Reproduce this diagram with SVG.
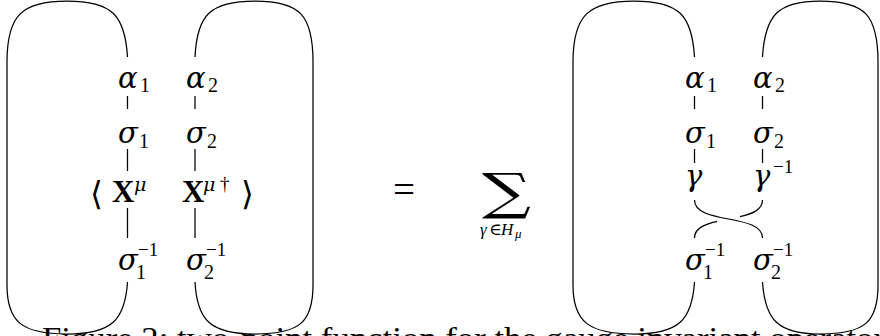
<svg xmlns="http://www.w3.org/2000/svg" width="880" height="336" viewBox="0 0 880 336">
<style>
.ln{fill:none;stroke:#000;stroke-width:1.25;stroke-linecap:butt}
text{fill:#000;font-family:"Liberation Serif","DejaVu Serif",serif}
.g{font-family:"DejaVu Serif",serif;font-size:29px;font-style:italic}
.sub{font-size:20px}
.sup{font-size:19px}
.smi{font-family:"DejaVu Serif",serif;font-size:19px;font-style:italic}
.bx{font-size:31px;font-weight:bold}
.br{font-family:"DejaVu Serif","DejaVu Sans",serif;font-size:33px}
.cap{font-size:32px}
.ss{font-size:17px}
</style>
<rect width="880" height="336" fill="#fff"/>
<g id="connectors">
  <path class="ln" d="M127.5,57 C125,15 112,1 67,1 C22,1 7,15 7,62 L7,285 C7,322 22,334 67,334 C112,334 125,320 127.5,282"/>
  <path class="ln" d="M195,57 C197,15 210,1 255,1 C300,1 313,15 313,62 L313,285 C313,322 300,334 255,334 C210,334 197,320 195,282"/>
  <path class="ln" d="M127.5,96 V109 M195,96 V109 M127.5,149 V171 M195,149 V171 M127.5,208 V238 M195,208 V238"/>
  <path class="ln" d="M694.5,57 C692,15 679,1 634,1 C589,1 573,15 573,62 L573,285 C573,322 589,334 634,334 C679,334 692,320 694.5,282"/>
  <path class="ln" d="M762.5,57 C765,15 778,1 820,1 C865,1 878,15 878,62 L878,285 C878,322 865,334 820,334 C778,334 765,320 762.5,282"/>
  <path class="ln" d="M694.5,96 V109 M762.5,96 V109 M694.5,149 V163 M762.5,149 V163"/>
  <path class="ln" d="M694.5,200 C694.5,225 762.5,213 762.5,238"/>
  <path class="ln" d="M762.5,200 C762.5,209.63 752.42,213.77 740.02,216.65"/>
  <path class="ln" d="M716.98,221.35 C704.58,224.23 694.5,228.37 694.5,238"/>
</g>
<g id="left-a1"><text class="g" x="118" y="88">α</text><text class="sub" x="140" y="92">1</text></g>
<g id="left-a2"><text class="g" x="186" y="88">α</text><text class="sub" x="208" y="92">2</text></g>
<g id="left-s1"><text class="g" x="118" y="143">σ</text><text class="sub" x="139" y="148">1</text></g>
<g id="left-s2"><text class="g" x="186" y="143">σ</text><text class="sub" x="207" y="148">2</text></g>
<g id="left-corr">
  <text class="br" x="90" y="205">⟨</text>
  <text class="bx" x="112" y="202">X</text><text class="smi" x="134" y="191">μ</text>
  <text class="bx" x="182" y="202">X</text><text class="smi" x="203" y="191">μ</text><text class="sup" x="220" y="190">†</text>
  <text class="br" x="241" y="205">⟩</text>
</g>
<g id="left-si1"><text class="g" x="118" y="270">σ</text><text class="sup" x="138" y="256">−1</text><text class="sub" x="136" y="279">1</text></g>
<g id="left-si2"><text class="g" x="186" y="270">σ</text><text class="sup" x="206" y="256">−1</text><text class="sub" x="204" y="279">2</text></g>
<g id="equals"><text x="393" y="203" font-size="40" textLength="22" lengthAdjust="spacingAndGlyphs">=</text></g>
<g id="sum">
  <text x="482" y="209" style="font-family:'DejaVu Serif',serif;font-size:50px" textLength="49" lengthAdjust="spacingAndGlyphs">∑</text>
  <text class="ss" x="480" y="235" style="font-style:italic">γ</text>
  <text class="ss" x="489" y="235">∈</text>
  <text class="ss" x="501" y="235" style="font-style:italic">H</text>
  <text x="515" y="238" style="font-size:13px;font-style:italic">μ</text>
</g>
<g id="right-a1"><text class="g" x="685" y="88">α</text><text class="sub" x="707" y="92">1</text></g>
<g id="right-a2"><text class="g" x="753" y="88">α</text><text class="sub" x="775" y="92">2</text></g>
<g id="right-s1"><text class="g" x="685" y="143">σ</text><text class="sub" x="706" y="148">1</text></g>
<g id="right-s2"><text class="g" x="753" y="143">σ</text><text class="sub" x="774" y="148">2</text></g>
<g id="right-g"><text class="g" x="685" y="186">γ</text></g>
<g id="right-gi"><text class="g" x="753" y="186">γ</text><text class="sup" x="773" y="173">−1</text></g>
<g id="right-si1"><text class="g" x="685" y="270">σ</text><text class="sup" x="705" y="256">−1</text><text class="sub" x="703" y="279">1</text></g>
<g id="right-si2"><text class="g" x="753" y="270">σ</text><text class="sup" x="773" y="256">−1</text><text class="sub" x="771" y="279">2</text></g>
<g id="caption"><text class="cap" x="42" y="349" textLength="843" lengthAdjust="spacingAndGlyphs">Figure 2: two-point function for the gauge invariant operator</text></g>
</svg>
